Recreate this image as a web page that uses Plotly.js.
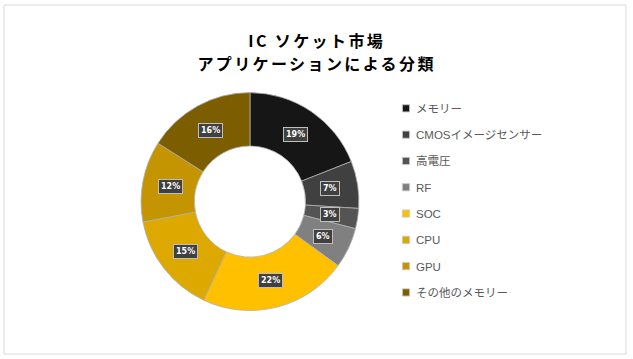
<!DOCTYPE html>
<html>
<head>
<meta charset="utf-8">
<script src="https://cdn.plot.ly/plotly-3.0.1.min.js"></script>
<style>html,body{margin:0;padding:0;background:#fff;}#chart{width:633px;height:359px;}</style>
</head>
<body>
<div id="chart"></div>
<script>
const categories = ["メモリー", "CMOSイメージセンサー", "高電圧", "RF", "SOC", "CPU", "GPU", "その他のメモリー"];
const shares = [19, 7, 3, 6, 22, 15, 12, 16];
const colors = ["#161616", "#404040", "#545454", "#808080", "#FFC000", "#DDA800", "#C49500", "#7C5D00"];
const titleLines = ["IC ソケット市場", "アプリケーションによる分類"];

const FONT = "Liberation Sans, Arial, Noto Sans CJK JP, sans-serif";
const W = 633, H = 359;

const trace = {
  type: "pie",
  labels: categories,
  values: shares,
  sort: false,
  direction: "clockwise",
  rotation: 0,
  hole: 0.51,
  textinfo: "none",
  hoverinfo: "label+percent",
  marker: { colors: colors, line: { color: "#b0b0b0", width: 0.8 } },
  domain: { x: [0.2227, 0.5671], y: [0.1350, 0.7420] }
};

const titleAnns = titleLines.map(function (t, i) {
  return {
    xref: "paper", yref: "paper",
    x: 0.5, y: 1 - (40 + i * 22.5) / H,
    xanchor: "center", yanchor: "middle",
    text: "<b>" + t + "</b>", showarrow: false,
    font: { family: "Noto Sans CJK JP, Liberation Sans, sans-serif", size: 16, color: "#000000" }
  };
});

const layout = {
  width: W, height: H,
  margin: { l: 0, r: 0, t: 0, b: 0 },
  paper_bgcolor: "#ffffff",
  showlegend: true,
  annotations: titleAnns,
  legend: {
    x: 376 / W, xanchor: "left", y: 0.74, yanchor: "top",
    font: { family: FONT, size: 11.5, color: "#595959" },
    bgcolor: "rgba(0,0,0,0)",
    traceorder: "normal"
  },
  shapes: [{
    type: "rect", xref: "paper", yref: "paper",
    x0: 4 / W, x1: 626 / W, y0: 1 - 354 / H, y1: 1 - 5 / H,
    line: { color: "#d9d9d9", width: 1 }, fillcolor: "rgba(0,0,0,0)"
  }]
};

const gd = document.getElementById("chart");
Plotly.newPlot(gd, [trace], layout, { displayModeBar: false, staticPlot: true }).then(function () {
  const cd0 = gd.calcdata[0][0];
  const cx = cd0.cx, cy = cd0.cy, r = cd0.r;
  const total = shares.reduce((a, b) => a + b, 0);
  const rMid = r * 0.745;
  let cum = 0;
  const anns = shares.map(function (v) {
    const mid = (cum + v / 2) / total * 2 * Math.PI;
    cum += v;
    const px = cx + Math.sin(mid) * rMid;
    const py = cy - Math.cos(mid) * rMid;
    return {
      xref: "paper", yref: "paper",
      x: px / W, y: 1 - py / H,
      xanchor: "center", yanchor: "middle",
      text: "<b>" + Math.round(v / total * 100) + "%</b>",
      showarrow: false,
      font: { family: "DejaVu Sans, sans-serif", size: 8, color: "#ffffff" },
      bgcolor: "#404040",
      bordercolor: "#bfbfbf",
      borderwidth: 1,
      borderpad: 2
    };
  });
  return Plotly.relayout(gd, { annotations: titleAnns.concat(anns) });
}).then(function () {
  // widen title letter spacing like the reference
  const at = gd.querySelectorAll(".annotation-text");
  for (let i = 0; i < titleLines.length && i < at.length; i++) {
    at[i].style.letterSpacing = "2.4px";
  }
  // tighten legend symbols and spacing to match reference
  const sb = gd.querySelector(".legend .scrollbox");
  if (sb) sb.removeAttribute("clip-path");
  const bg = gd.querySelector(".legend .bg");
  if (bg) bg.setAttribute("height", "240");
  const items = gd.querySelectorAll(".legend .traces");
  items.forEach(function (g, i) {
    g.setAttribute("transform", "translate(0," + (15 + i * 26.3) + ")");
    const p = g.querySelector(".legendpoints path");
    if (p) {
      p.setAttribute("transform", "translate(30,0) scale(0.6)");
      p.style.stroke = "#c8c8c8";
      p.style.strokeWidth = "1.5px";
    }
  });
});
</script>
</body>
</html>
